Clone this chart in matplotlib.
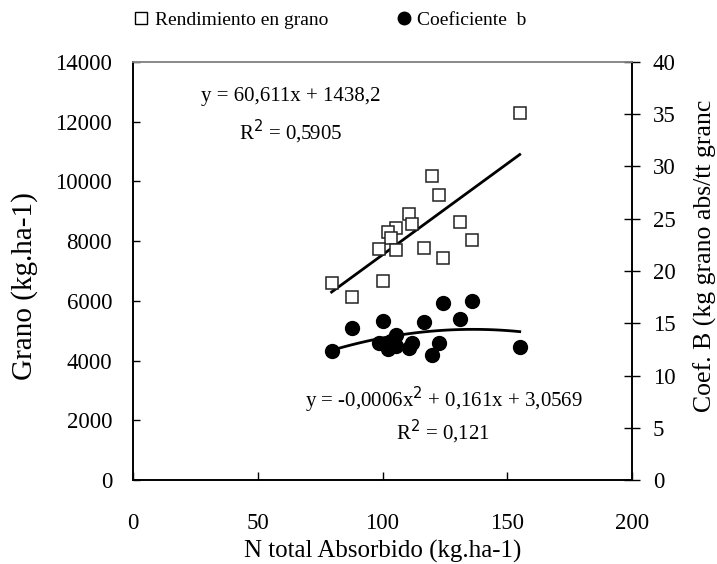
import numpy as np
import matplotlib
matplotlib.use('Agg')
import matplotlib.pyplot as plt
from matplotlib.lines import Line2D

plt.rcParams['font.family'] = ['Liberation Serif', 'DejaVu Serif']

# N total absorbido (kg/ha) and grain yield (kg/ha)
n_abs = [155, 120, 122.8, 110.7, 111.8, 131.1, 135.7, 105.3, 102.3, 103.4,
         98.7, 105.3, 116.6, 124.4, 79.6, 100.3, 87.7]
grano = [12300, 10180, 9540, 8910, 8580, 8630, 8040, 8450, 8320, 8090,
         7730, 7700, 7760, 7450, 6590, 6680, 6120]
# coeficiente b (right axis)
coef_b = [12.7, 12.0, 13.1, 12.6, 13.1, 15.4, 17.1, 13.9, 12.5, 13.3,
          13.1, 12.8, 15.15, 16.9, 12.3, 15.2, 14.5]

x_ticks = [0, 50, 100, 150, 200]
y_ticks = [0, 2000, 4000, 6000, 8000, 10000, 12000, 14000]
y2_ticks = [0, 5, 10, 15, 20, 25, 30, 35, 40]

fig = plt.figure(figsize=(7.17, 5.64), dpi=100)
ax = fig.add_axes([133 / 717, 1 - 480 / 564, 499 / 717, 418 / 564])
ax2 = ax.twinx()

# trend lines fitted to the points
xs = np.linspace(min(n_abs), max(n_abs), 100)
lin = np.polyfit(n_abs, grano, 1)
quad = np.polyfit(n_abs, coef_b, 2)

ax.plot(xs, np.polyval(lin, xs), color='black', lw=2, zorder=2)
ax.plot(n_abs, grano, 's', ms=9, mfc='white', mec='#222222', mew=1.1, zorder=3)
ax2.plot(xs, np.polyval(quad, xs), color='black', lw=2, zorder=2)
ax2.plot(n_abs, coef_b, 'o', ms=10, color='black', zorder=3)

ax.set_xlim(0, 200)
ax.set_ylim(0, 14000)
ax2.set_ylim(0, 40)
ax.set_xticks(x_ticks)
ax.set_yticks(y_ticks)
ax2.set_yticks(y2_ticks)

ax.tick_params(axis='x', direction='in', length=6, width=1, pad=24, labelsize=16.5)
ax.tick_params(axis='y', direction='in', length=5, width=1, pad=15, labelsize=16.5)
ax2.tick_params(axis='y', direction='inout', length=12, width=1, pad=9, labelsize=16.5)

for a in (ax, ax2):
    for s in a.spines.values():
        s.set_color('black')
        s.set_linewidth(1.2)
    a.spines['top'].set_color('#888888')

ax.set_xlabel('N total Absorbido (kg.ha-1)', fontsize=18)
ax.xaxis.set_label_coords(0.5, -(551 - 480) / 418)
ax.xaxis.label.set_va('center')

ax.set_ylabel('Grano (kg.ha-1)', fontsize=21)
ax.yaxis.set_label_coords((25 - 133) / 499, (480 - 286) / 418)
ax.yaxis.label.set_va('center')

ax2.set_ylabel('Coef. B (kg grano abs/tt granc', fontsize=18.5)
ax2.yaxis.set_label_coords((705 - 133) / 499, (480 - 256) / 418)
ax2.yaxis.label.set_va('center')
ax2.yaxis.label.set_rotation(90)

# equations
ax.text((291 - 133) / 499, (480 - 96) / 418, 'y = 60,611x + 1438,2',
        transform=ax.transAxes, ha='center', va='center', fontsize=15)
ax.text((291 - 133) / 499, (480 - 132) / 418, 'R$^2$ = 0,5905',
        transform=ax.transAxes, ha='center', va='center', fontsize=15)
ax.text((444 - 133) / 499, (480 - 400) / 418, 'y = -0,0006x$^2$ + 0,161x + 3,0569',
        transform=ax.transAxes, ha='center', va='center', fontsize=15)
ax.text((443 - 133) / 499, (480 - 432) / 418, 'R$^2$ = 0,121',
        transform=ax.transAxes, ha='center', va='center', fontsize=15)

handles = [
    Line2D([], [], ls='none', marker='s', ms=8, mfc='white', mec='black', mew=1),
    Line2D([], [], ls='none', marker='o', ms=9, color='black'),
]
fig.legend(handles, ['Rendimiento en grano', 'Coeficiente  b'], loc='center',
           bbox_to_anchor=(330 / 717, 1 - 20 / 564), ncol=2, frameon=False,
           fontsize=14, handlelength=0.8, handletextpad=0.3, columnspacing=3.5)

fig.savefig('out.png', dpi=100)
